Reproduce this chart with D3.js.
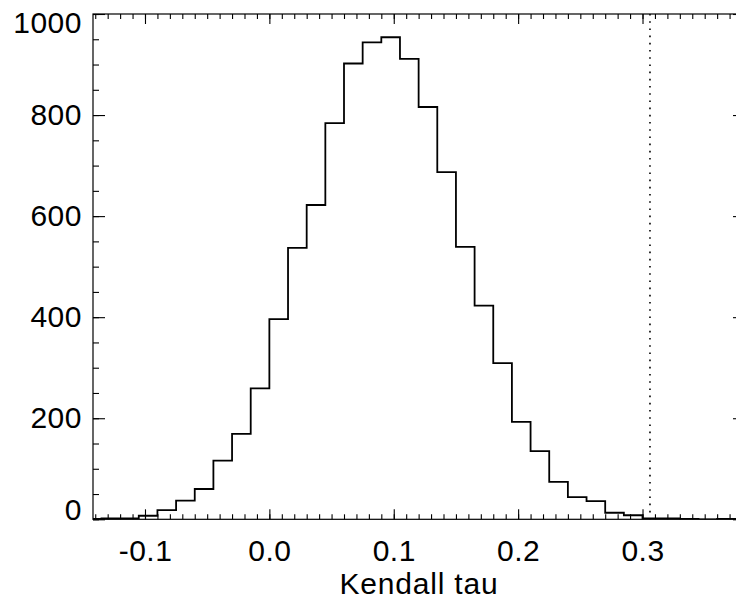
<!DOCTYPE html>
<html>
<head>
<meta charset="utf-8">
<script src="https://cdn.jsdelivr.net/npm/d3@7"></script>
<style>
    body { margin: 0; background: #fff; }
    svg { display: block; font-family: "Liberation Sans", Arial, sans-serif; }
</style>
</head>
<body>
<div id="histogram"></div>
<script>
// lower edge of each 0.015-wide bin of Kendall tau, and the counts
const binEdges = [-0.150, -0.135, -0.120, -0.105, -0.090, -0.075, -0.060, -0.045, -0.030, -0.015,
    0.000, 0.015, 0.030, 0.045, 0.060, 0.075, 0.090, 0.105, 0.120, 0.135,
    0.150, 0.165, 0.180, 0.195, 0.210, 0.225, 0.240, 0.255, 0.270, 0.285,
    0.300, 0.315, 0.330, 0.345, 0.360, 0.375];
const counts = [1, 2, 2, 7, 18, 37, 60, 116, 169, 259,
    396, 537, 622, 784, 902, 944, 954, 911, 816, 687,
    539, 423, 309, 193, 135, 74, 44, 36, 13, 8,
    2, 2, 1, 0, 1, 0];
const binWidth = 0.015;
const observedTau = 0.306;

const xTicks = [-0.1, 0.0, 0.1, 0.2, 0.3];
const xTickLabels = ['-0.1', '0.0', '0.1', '0.2', '0.3'];
const yTicks = [0, 200, 400, 600, 800, 1000];
const yTickLabels = ['0', '200', '400', '600', '800', '1000'];
const xDomain = [-0.1418, 0.3824];
const yDomain = [0, 1000];

const margin = { top: 14, right: -9, bottom: 85.7, left: 93 };
const fullWidth = 736;
const fullHeight = 605;
const width = fullWidth - margin.left - margin.right;
const height = fullHeight - margin.top - margin.bottom;

const svg = d3
    .select('#histogram')
    .append('svg')
    .attr('width', fullWidth)
    .attr('height', fullHeight)
    .append('g')
    .attr('transform', `translate(${margin.left},${margin.top})`);

const x = d3.scaleLinear().domain(xDomain).range([0, width]);
const y = d3.scaleLinear().domain(yDomain).range([height, 0]);

svg.append('clipPath')
    .attr('id', 'plot-clip')
    .append('rect')
    .attr('width', width)
    .attr('height', height);

// minor ticks (all four sides, pointing inward)
const xMinor = d3.range(-14, 39).map(d => d / 100);
const yMinor = d3.range(0, 1001, 50);

function styleAxis(g) {
    g.select('.domain').remove();
    g.selectAll('line').attr('stroke', '#000').attr('stroke-width', 1.1);
    g.selectAll('text')
        .attr('fill', '#000')
        .style('font-size', '30px')
        .style('letter-spacing', '0.5px')
        .style('font-family', '"Liberation Sans", Arial, sans-serif');
}

svg.append('g')
    .attr('transform', `translate(0,${height})`)
    .call(d3.axisBottom(x).tickValues(xMinor).tickSizeInner(-5).tickSizeOuter(0).tickFormat(''))
    .call(styleAxis);
svg.append('g')
    .call(d3.axisTop(x).tickValues(xMinor).tickSizeInner(-5).tickSizeOuter(0).tickFormat(''))
    .call(styleAxis);
svg.append('g')
    .call(d3.axisLeft(y).tickValues(yMinor).tickSizeInner(-6).tickSizeOuter(0).tickFormat(''))
    .call(styleAxis);
svg.append('g')
    .attr('transform', `translate(${width},0)`)
    .call(d3.axisRight(y).tickValues(yMinor).tickSizeInner(-6).tickSizeOuter(0).tickFormat(''))
    .call(styleAxis);

// major ticks and labels
svg.append('g')
    .attr('transform', `translate(0,${height})`)
    .call(d3.axisBottom(x).tickValues(xTicks).tickSizeInner(-10).tickSizeOuter(0).tickPadding(20)
        .tickFormat((d, i) => xTickLabels[i]))
    .call(styleAxis);
svg.append('g')
    .call(d3.axisTop(x).tickValues(xTicks).tickSizeInner(-10).tickSizeOuter(0).tickFormat(''))
    .call(styleAxis);
svg.append('g')
    .attr('class', 'y-axis')
    .call(d3.axisLeft(y).tickValues(yTicks).tickSizeInner(-12).tickSizeOuter(0).tickPadding(11)
        .tickFormat((d, i) => yTickLabels[i]))
    .call(styleAxis);
svg.append('g')
    .attr('transform', `translate(${width},0)`)
    .call(d3.axisRight(y).tickValues(yTicks).tickSizeInner(-12).tickSizeOuter(0).tickFormat(''))
    .call(styleAxis);

// the end labels are kept inside the plot's height
svg.select('.y-axis').selectAll('.tick text')
    .attr('dy', function (d) {
        if (d === yDomain[0]) return '0em';
        if (d === yDomain[1]) return '0.62em';
        return '0.32em';
    });

// frame
svg.append('rect')
    .attr('width', width)
    .attr('height', height)
    .attr('fill', 'none')
    .attr('stroke', '#000')
    .attr('stroke-width', 1.2);

// histogram outline
const steps = binEdges.map((e, i) => ({ x: e, y: counts[i] }));
steps.push({ x: binEdges[binEdges.length - 1] + binWidth, y: counts[counts.length - 1] });

const line = d3.line()
    .x(d => x(d.x))
    .y(d => y(d.y))
    .curve(d3.curveStepAfter);

svg.append('path')
    .datum(steps)
    .attr('clip-path', 'url(#plot-clip)')
    .attr('fill', 'none')
    .attr('stroke', '#000')
    .attr('stroke-width', 1.8)
    .attr('d', line);

// observed value
svg.append('line')
    .attr('x1', x(observedTau))
    .attr('x2', x(observedTau))
    .attr('y1', y(yDomain[1]))
    .attr('y2', y(yDomain[0]))
    .attr('stroke', '#000')
    .attr('stroke-width', 1.6)
    .attr('stroke-dasharray', '1.6,5.6');

svg.append('text')
    .attr('x', width / 2)
    .attr('y', height + 75)
    .attr('text-anchor', 'middle')
    .style('font-size', '30px')
    .style('letter-spacing', '0.8px')
    .text('Kendall tau');
</script>
</body>
</html>
